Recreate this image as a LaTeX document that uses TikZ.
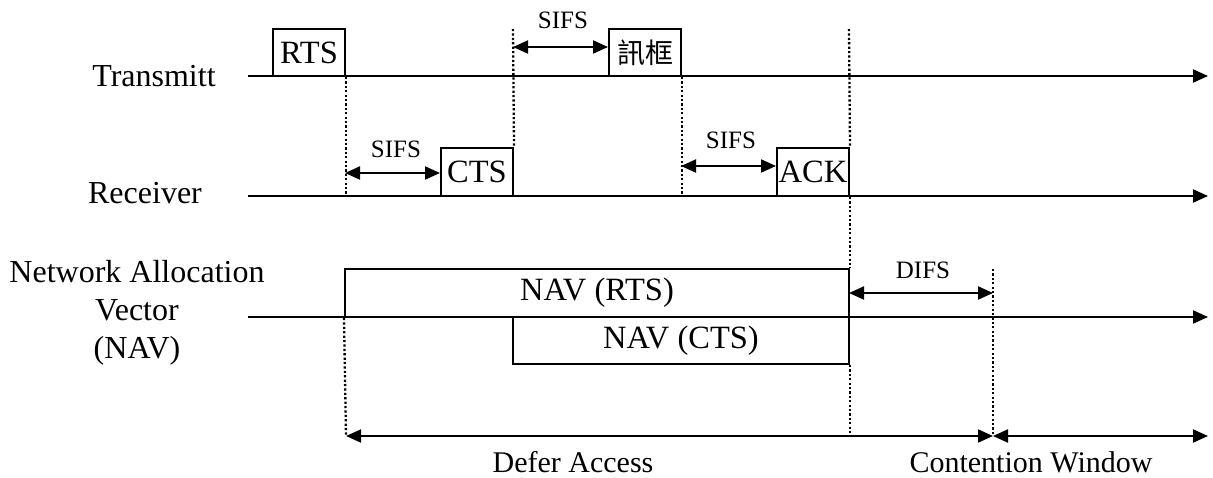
\documentclass[tikz,border=0pt]{standalone}
\usepackage{fontspec}
\setmainfont{Liberation Serif}
\newfontfamily\cjkfont{Noto Sans CJK TC}
\usetikzlibrary{arrows.meta}

\tikzset{
  axis/.style={line width=2pt, -{Triangle[length=15pt,width=13pt]}},
  span/.style={line width=2pt, {Triangle[length=15pt,width=13pt]}-{Triangle[length=15pt,width=13pt]}},
  guide/.style={line width=2.3pt, dash pattern=on 2.2pt off 2.2pt},
  frame/.style={draw, line width=2pt, inner sep=0pt, font=\fontsize{32.5}{36}\selectfont},
  rowlabel/.style={font=\fontsize{32}{38}\selectfont, align=center, inner sep=0pt},
  gaplabel/.style={font=\fontsize{25}{28}\selectfont, inner sep=0pt},
  bottomlabel/.style={font=\fontsize{30}{34}\selectfont, inner sep=0pt}
}

\begin{document}
\begin{tikzpicture}[x=1pt, y=-1pt]
\useasboundingbox (0,0) rectangle (1213,477);

% row labels
\node[rowlabel] (ltx) at (154,76) {Transmitt};
\node[rowlabel] (lrx) at (145,193) {Receiver};
\node[rowlabel] (lnav) at (137,313) {Network Allocation\\Vector\\(NAV)};

% time axes
\coordinate (tx0) at (248,76);   \coordinate (tx1) at (1208,76);
\coordinate (rx0) at (248,196);  \coordinate (rx1) at (1208,196);
\coordinate (nv0) at (248,317);  \coordinate (nv1) at (1208,317);
\draw[axis] (tx0) -- (tx1);
\draw[axis] (rx0) -- (rx1);
\draw[axis] (nv0) -- (nv1);

% frames
\node[frame, minimum width=72pt, minimum height=47pt] (rts) at (309,52.5) {RTS};
\node[frame, minimum width=72pt, minimum height=47pt, font=\cjkfont\fontsize{28}{32}\selectfont] (data) at (645,52.5) {訊框};
\node[frame, minimum width=72pt, minimum height=48pt] (cts) at (477,172) {CTS};
\node[frame, minimum width=72pt, minimum height=48pt] (ack) at (813,172) {ACK};
\node[frame, minimum width=504pt, minimum height=48pt] (navrts) at (597,293) {NAV (RTS)};
\node[frame, minimum width=336pt, minimum height=47pt] (navcts) at (681,340.5) {NAV (CTS)};

% boundary markers
\coordinate (m513) at (513,29);
\coordinate (m849) at (849,29);
\coordinate (m993) at (993,269);
\coordinate (da0) at (rts.south east |- 0,436);
\coordinate (da1) at (993,436);
\coordinate (cw1) at (1208,436);

\draw[guide] (rts.south east) -- (rts.south east |- rx0);
\draw[guide] (navrts.south west) -- (da0);
\draw[guide] (m513) -- (cts.north east);
\draw[guide] (data.south east) -- (data.south east |- rx0);
\draw[guide] (m849) -- (ack.north east);
\draw[guide] (ack.south east) -- (navrts.north east);
\draw[guide] (navcts.south east) -- (navcts.south east |- da0);
\draw[guide] (m993) -- (da1);

% interframe spaces
\coordinate (s1a) at (513,47);  \coordinate (s1b) at (data.west |- s1a);
\coordinate (s2a) at (345,173); \coordinate (s2b) at (cts.west |- s2a);
\coordinate (s3a) at (681,166); \coordinate (s3b) at (ack.west |- s3a);
\coordinate (s4a) at (849,293); \coordinate (s4b) at (m993 |- s4a);
\draw[span] (s1a) -- (s1b);
\draw[span] (s2a) -- (s2b);
\draw[span] (s3a) -- (s3b);
\draw[span] (s4a) -- (s4b);
\node[gaplabel] (g1) at (563,20) {SIFS};
\node[gaplabel] (g2) at (396,149) {SIFS};
\node[gaplabel] (g3) at (731,140) {SIFS};
\node[gaplabel] (g4) at (923,270) {DIFS};

% access periods
\draw[span] (da0) -- (da1);
\draw[span] (da1) -- (cw1);
\node[bottomlabel] (defer) at (573,462) {Defer Access};
\node[bottomlabel] (cw) at (1031,462) {Contention Window};
\end{tikzpicture}
\end{document}
